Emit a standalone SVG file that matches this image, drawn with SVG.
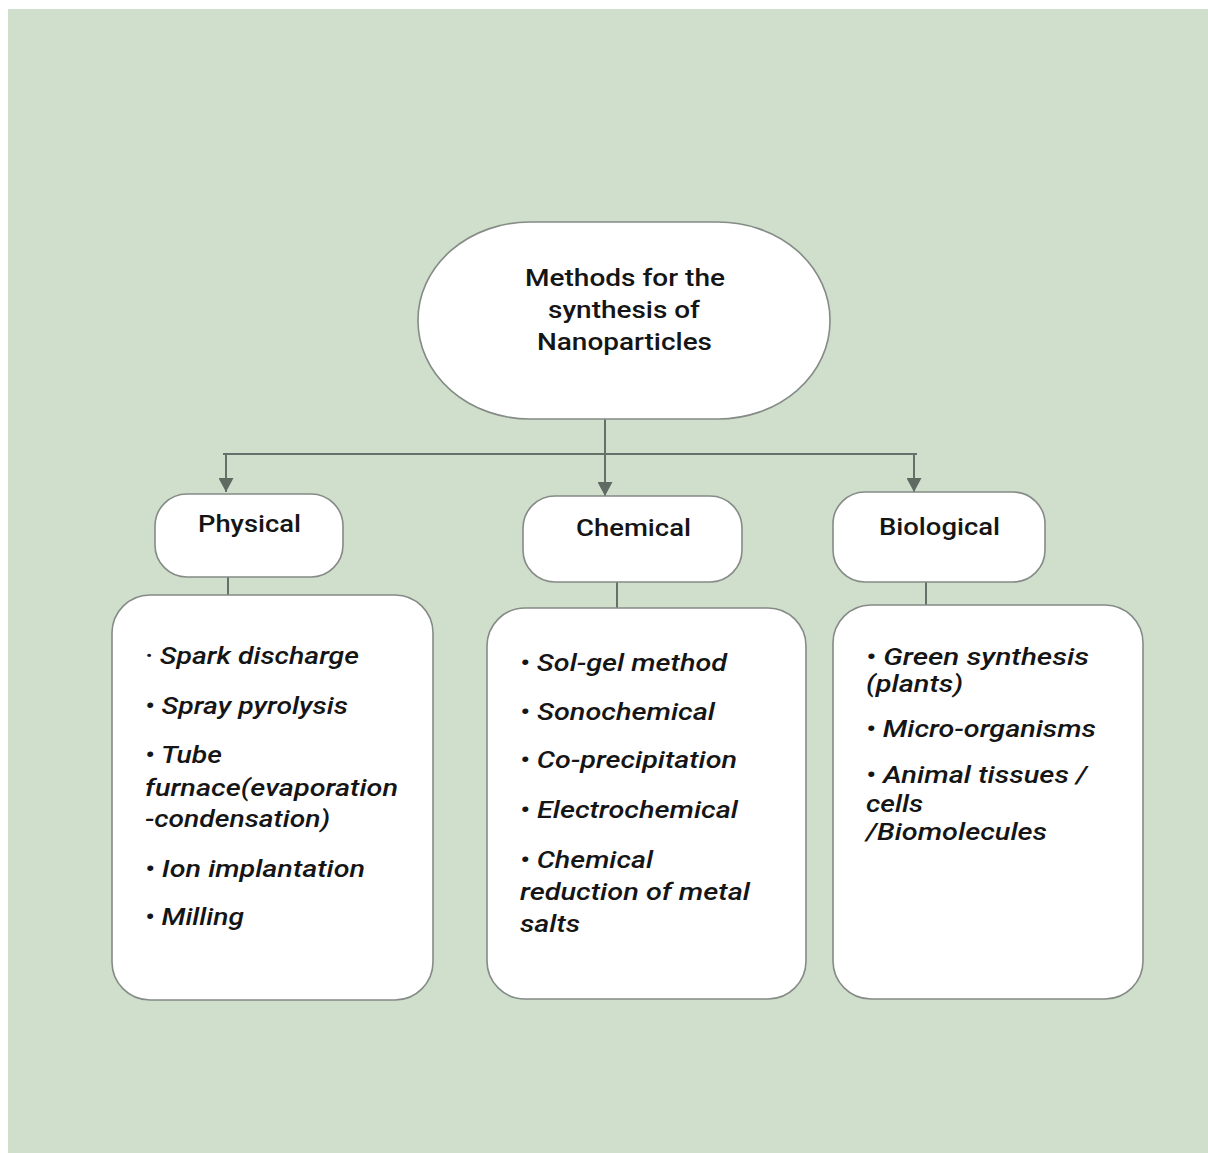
<svg xmlns="http://www.w3.org/2000/svg" width="1208" height="1153" viewBox="0 0 1208 1153">
<defs>
<style>
.bg{fill:#cfdfcc}
.node{fill:#ffffff;stroke:#858b86;stroke-width:1.6}
.conn{fill:none;stroke:#66706a;stroke-width:2}
.title{font-family:Roboto,"Liberation Sans",Arial,sans-serif;font-weight:500;font-size:23px;fill:#151515}
.item{font-family:Roboto,"Liberation Sans",Arial,sans-serif;font-style:italic;font-weight:500;font-size:23px;fill:#151515}
</style>
<marker id="arr" markerUnits="userSpaceOnUse" markerWidth="15" markerHeight="15" refX="14" refY="7.5" orient="auto" viewBox="0 0 15 15">
<path d="M0,0 L14,7.5 L0,15 z" fill="#5f6a63"/>
</marker>
</defs>
<rect x="0" y="0" width="1208" height="1153" fill="#ffffff"/>
<rect class="bg" x="8" y="9" width="1200" height="1144"/>

<g id="connectors">
<line class="conn" x1="605" y1="419" x2="605" y2="496" marker-end="url(#arr)"/>
<line class="conn" x1="223" y1="454" x2="917" y2="454"/>
<line class="conn" x1="226" y1="454" x2="226" y2="492" marker-end="url(#arr)"/>
<line class="conn" x1="914" y1="454" x2="914" y2="492" marker-end="url(#arr)"/>
<line class="conn" x1="228" y1="577" x2="228" y2="595"/>
<line class="conn" x1="617" y1="582" x2="617" y2="608"/>
<line class="conn" x1="926" y1="582" x2="926" y2="605"/>
</g>

<g id="root">
<rect class="node" x="418" y="222" width="412" height="197" rx="112" ry="98"/>
<text class="title" x="525" y="286" textLength="200" lengthAdjust="spacingAndGlyphs">Methods for the</text>
<text class="title" x="548" y="318" textLength="152" lengthAdjust="spacingAndGlyphs">synthesis of</text>
<text class="title" x="537" y="350" textLength="175" lengthAdjust="spacingAndGlyphs">Nanoparticles</text>
</g>

<g id="physical">
<rect class="node" x="155" y="494" width="188" height="83" rx="32" ry="32"/>
<text class="title" x="198" y="532" textLength="103" lengthAdjust="spacingAndGlyphs">Physical</text>
</g>
<g id="chemical">
<rect class="node" x="523" y="496" width="219" height="86" rx="32" ry="32"/>
<text class="title" x="576" y="536" textLength="115" lengthAdjust="spacingAndGlyphs">Chemical</text>
</g>
<g id="biological">
<rect class="node" x="833" y="492" width="212" height="90" rx="32" ry="32"/>
<text class="title" x="879" y="535" textLength="121" lengthAdjust="spacingAndGlyphs">Biological</text>
</g>

<g id="physical-list">
<rect class="node" x="112" y="595" width="321" height="405" rx="38" ry="38"/>
<text class="item" x="145" y="664" textLength="214" lengthAdjust="spacingAndGlyphs">· Spark discharge</text>
<text class="item" x="145" y="714" textLength="203" lengthAdjust="spacingAndGlyphs">• Spray pyrolysis</text>
<text class="item" x="145" y="763" textLength="77" lengthAdjust="spacingAndGlyphs">• Tube</text>
<text class="item" x="145" y="796" textLength="253" lengthAdjust="spacingAndGlyphs">furnace(evaporation</text>
<text class="item" x="145" y="827" textLength="185" lengthAdjust="spacingAndGlyphs">-condensation)</text>
<text class="item" x="145" y="877" textLength="220" lengthAdjust="spacingAndGlyphs">• Ion implantation</text>
<text class="item" x="145" y="925" textLength="99" lengthAdjust="spacingAndGlyphs">• Milling</text>
</g>

<g id="chemical-list">
<rect class="node" x="487" y="608" width="319" height="391" rx="38" ry="38"/>
<text class="item" x="520" y="671" textLength="207" lengthAdjust="spacingAndGlyphs">• Sol-gel method</text>
<text class="item" x="520" y="720" textLength="195" lengthAdjust="spacingAndGlyphs">• Sonochemical</text>
<text class="item" x="520" y="768" textLength="217" lengthAdjust="spacingAndGlyphs">• Co-precipitation</text>
<text class="item" x="520" y="818" textLength="218" lengthAdjust="spacingAndGlyphs">• Electrochemical</text>
<text class="item" x="520" y="868" textLength="133" lengthAdjust="spacingAndGlyphs">• Chemical</text>
<text class="item" x="520" y="900" textLength="230" lengthAdjust="spacingAndGlyphs">reduction of metal</text>
<text class="item" x="520" y="932" textLength="60" lengthAdjust="spacingAndGlyphs">salts</text>
</g>

<g id="biological-list">
<rect class="node" x="833" y="605" width="310" height="394" rx="38" ry="38"/>
<text class="item" x="866" y="665" textLength="223" lengthAdjust="spacingAndGlyphs">•  Green synthesis</text>
<text class="item" x="866" y="692" textLength="97" lengthAdjust="spacingAndGlyphs">(plants)</text>
<text class="item" x="866" y="737" textLength="230" lengthAdjust="spacingAndGlyphs">• Micro-organisms</text>
<text class="item" x="866" y="783" textLength="221" lengthAdjust="spacingAndGlyphs">• Animal tissues /</text>
<text class="item" x="866" y="812" textLength="57" lengthAdjust="spacingAndGlyphs">cells</text>
<text class="item" x="866" y="840" textLength="181" lengthAdjust="spacingAndGlyphs">/Biomolecules</text>
</g>
</svg>
